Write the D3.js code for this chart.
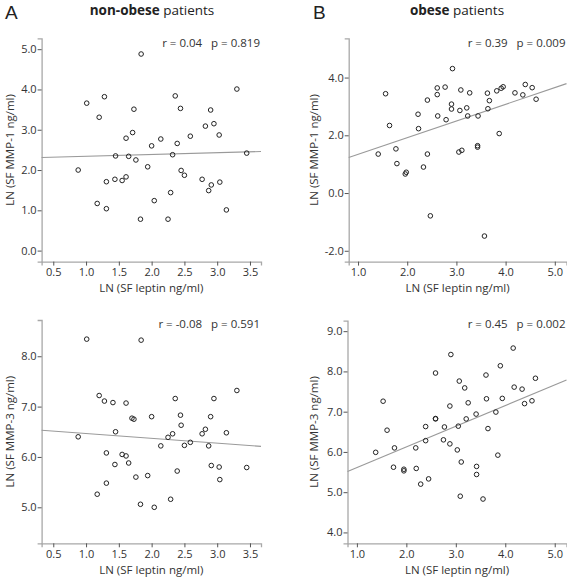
<!DOCTYPE html>
<html>
<head>
<meta charset="utf-8">
<script src="https://cdn.jsdelivr.net/npm/d3@7/dist/d3.min.js"></script>
<style>
  html, body { margin: 0; padding: 0; background: #fff; }
  svg { display: block; font-family: "Open Sans", "Noto Sans", sans-serif; }
</style>
</head>
<body>
<svg id="chart" width="567" height="577"></svg>
<script>
// ---------- DATA ----------
// Panel A top: non-obese, LN(SF leptin) vs LN(SF MMP-1)
const nonObeseLeptinA = [0.88,1.01,1.28,1.20,1.17,1.31,1.31,1.44,1.45,1.55,1.61,1.61,1.65,1.71,1.73,1.76,1.84,1.83,1.94,2.00,2.04,2.14,2.36,2.44,2.39,2.32,2.29,2.25,2.45,2.50,2.59,2.77,2.82,2.90,2.87,2.91,2.95,3.03,3.04,3.14,3.30,3.45];
const nonObeseMMP1   = [2.00,3.66,3.82,3.31,1.17,1.04,1.71,1.77,2.35,1.74,1.83,2.79,2.34,2.93,3.51,2.25,4.88,0.78,2.08,2.60,1.24,2.77,3.84,3.53,2.66,2.38,1.44,0.78,1.99,1.87,2.84,1.77,3.09,3.49,1.49,1.63,3.15,2.87,1.70,1.01,4.01,2.42];

// Panel B top: obese, LN(SF leptin) vs LN(SF MMP-1)
const obeseLeptinB = [1.41,1.56,1.64,1.77,1.79,1.96,1.98,2.22,2.23,2.33,2.41,2.41,2.47,2.61,2.61,2.62,2.77,2.79,2.90,2.90,2.92,3.05,3.07,3.09,3.11,3.21,3.23,3.27,3.43,3.43,3.44,3.57,3.63,3.64,3.67,3.82,3.87,3.91,3.95,4.19,4.35,4.40,4.54,4.62];
const obeseMMP1    = [1.35,3.44,2.34,1.53,1.02,0.66,0.72,2.73,2.23,0.90,3.22,1.35,-0.79,3.64,3.41,2.67,3.67,2.54,3.08,2.91,4.31,1.42,2.86,3.57,1.48,2.95,2.67,3.47,1.64,1.59,2.67,-1.49,3.46,2.92,3.20,3.54,2.06,3.63,3.68,3.47,3.40,3.76,3.65,3.25];

// Panel A bottom: non-obese, LN(SF leptin) vs LN(SF MMP-3)
const nonObeseLeptinC = [1.01,1.84,1.20,1.28,1.41,1.61,1.70,1.73,2.00,0.88,1.45,1.31,1.55,1.61,1.44,1.65,1.94,1.76,1.31,1.17,1.83,2.04,2.14,2.36,2.44,2.45,2.25,2.32,2.39,2.29,2.50,2.59,2.77,2.82,2.90,2.87,2.91,2.95,3.03,3.04,3.14,3.30,3.45];
const nonObeseMMP3   = [8.34,8.32,7.22,7.11,7.08,7.07,6.77,6.75,6.80,6.40,6.50,6.08,6.05,6.02,5.85,5.88,5.63,5.60,5.48,5.26,5.06,5.00,6.22,7.16,6.83,6.63,6.39,6.46,5.72,5.16,6.23,6.29,6.46,6.55,6.80,6.22,5.83,7.16,5.80,5.55,6.48,7.32,5.79];

// Panel B bottom: obese, LN(SF leptin) vs LN(SF MMP-3)
const obeseLeptinD = [1.38,1.53,1.61,1.74,1.76,1.95,1.95,2.19,2.20,2.29,2.39,2.39,2.45,2.59,2.59,2.59,2.75,2.77,2.88,2.88,2.90,3.03,3.05,3.07,3.09,3.11,3.18,3.21,3.25,3.41,3.42,3.42,3.55,3.61,3.62,3.65,3.81,3.85,3.90,3.94,4.16,4.18,4.34,4.39,4.54,4.61];
const obeseMMP3    = [5.99,7.26,6.54,5.62,6.10,5.57,5.53,6.10,5.59,5.20,6.63,6.28,5.33,7.96,6.82,6.83,6.30,6.62,7.14,6.20,8.42,6.05,6.64,7.76,4.90,5.75,7.59,6.82,7.22,6.94,5.64,5.44,4.83,7.91,7.32,6.58,6.99,5.92,8.14,7.33,8.58,7.61,7.56,7.20,7.27,7.83];

// Fitted regression lines (intercept, slope)
const fitIntercepts = [2.296, 0.762, 6.561, 5.094];
const fitSlopes     = [0.0448, 0.578, -0.0955, 0.5146];

// Statistics annotations
const statR = ["0.04", "0.39", "-0.08", "0.45"];
const statP = ["0.819", "0.009", "0.591", "0.002"];

// Axis tick labels
const xTicksNonObese = [0.5, 1.0, 1.5, 2.0, 2.5, 3.0, 3.5];
const xTicksObese    = [1.0, 2.0, 3.0, 4.0, 5.0];
const yTicksA1 = [0.0, 1.0, 2.0, 3.0, 4.0, 5.0];
const yTicksB1 = [-2.0, 0.0, 2.0, 4.0];
const yTicksA3 = [5.0, 6.0, 7.0, 8.0];
const yTicksB3 = [4.0, 5.0, 6.0, 7.0, 8.0, 9.0];

// Axis extents (value ranges shown)
const xDomainNonObese = [0.322, 3.668];
const xDomainObese    = [0.81, 5.238];
const yDomainA1 = [-0.273, 5.27];
const yDomainB1 = [-2.375, 5.36];
const yDomainA3 = [4.285, 8.72];
const yDomainB3 = [3.73, 9.26];

const xLabel = "LN (SF leptin ng/ml)";
const yLabelMMP1 = "LN (SF MMP-1 ng/ml)";
const yLabelMMP3 = "LN (SF MMP-3 ng/ml)";

// ---------- LAYOUT ----------
const svg = d3.select("#chart");
const axisColor = "#a8a8a8";
const textColor = "#333";

const panels = [
  { xs: nonObeseLeptinA, ys: nonObeseMMP1, xDom: xDomainNonObese, yDom: yDomainA1,
    xTicks: xTicksNonObese, yTicks: yTicksA1, yLabel: yLabelMMP1,
    left: 41.6, right: 261, top: 38.3, bottom: 261.6, yLabelX: 14, statY: 47, fit: 0 },
  { xs: obeseLeptinB, ys: obeseMMP1, xDom: xDomainObese, yDom: yDomainB1,
    xTicks: xTicksObese, yTicks: yTicksB1, yLabel: yLabelMMP1,
    left: 348.7, right: 566.5, top: 38.3, bottom: 261.6, yLabelX: 318, statY: 47, fit: 1 },
  { xs: nonObeseLeptinC, ys: nonObeseMMP3, xDom: xDomainNonObese, yDom: yDomainA3,
    xTicks: xTicksNonObese, yTicks: yTicksA3, yLabel: yLabelMMP3,
    left: 41.6, right: 261, top: 320, bottom: 543.3, yLabelX: 14, statY: 328, fit: 2 },
  { xs: obeseLeptinD, ys: obeseMMP3, xDom: xDomainObese, yDom: yDomainB3,
    xTicks: xTicksObese, yTicks: yTicksB3, yLabel: yLabelMMP3,
    left: 347.5, right: 566.5, top: 320.7, bottom: 543.3, yLabelX: 318, statY: 328, fit: 3 }
];

panels.forEach(p => {
  const x = d3.scaleLinear().domain(p.xDom).range([p.left, p.right]);
  const y = d3.scaleLinear().domain(p.yDom).range([p.bottom, p.top]);
  const g = svg.append("g");

  // x axis
  const xAxis = d3.axisBottom(x).tickValues(p.xTicks).tickFormat(d3.format(".1f")).tickSize(4).tickPadding(3);
  const gx = g.append("g").attr("transform", `translate(0,${p.bottom})`).call(xAxis);
  // y axis
  const yAxis = d3.axisLeft(y).tickValues(p.yTicks).tickFormat(d3.format(".1f")).tickSize(4).tickPadding(1);
  const gy = g.append("g").attr("transform", `translate(${p.left},0)`).call(yAxis);

  [gx, gy].forEach(ax => {
    ax.select(".domain").attr("stroke", axisColor).attr("stroke-width", 1.3);
    ax.selectAll(".tick line").attr("stroke", "#555").attr("stroke-width", 1);
    ax.selectAll(".tick text").attr("fill", textColor).style("font-size", "11px")
      .style("font-family", "'Open Sans', sans-serif");
  });
  gy.selectAll(".tick text").text(d => d3.format(".1f")(d).replace("−", "-"));

  // axis titles
  g.append("text")
    .attr("x", (p.left + p.right) / 2).attr("y", p.bottom + 30.5)
    .attr("text-anchor", "middle").attr("fill", textColor)
    .style("font-size", "11.5px").text(xLabel);
  g.append("text")
    .attr("transform", `translate(${p.yLabelX},${(p.top + p.bottom) / 2}) rotate(-90)`)
    .attr("text-anchor", "middle").attr("fill", textColor)
    .style("font-size", "11.5px").text(p.yLabel);

  // regression line
  const a = fitIntercepts[p.fit], b = fitSlopes[p.fit];
  g.append("line")
    .attr("x1", x(p.xDom[0])).attr("y1", y(a + b * p.xDom[0]))
    .attr("x2", x(p.xDom[1])).attr("y2", y(a + b * p.xDom[1]))
    .attr("stroke", "#9a9a9a").attr("stroke-width", 1.1);

  // points
  g.append("g").selectAll("circle")
    .data(p.xs.map((v, i) => [v, p.ys[i]]))
    .join("circle")
    .attr("cx", d => x(d[0])).attr("cy", d => y(d[1]))
    .attr("r", 2.3)
    .attr("fill", "none").attr("stroke", "#222").attr("stroke-width", 1);

  // stats
  g.append("text")
    .attr("x", p.right - 1).attr("y", p.statY)
    .attr("text-anchor", "end").attr("fill", textColor)
    .style("font-size", "11.5px").style("white-space", "pre")
    .text(`r = ${statR[p.fit]}   p = ${statP[p.fit]}`);
});

// Panel letters and titles
svg.append("text").attr("x", 5).attr("y", 18.5).style("font-size", "19px")
  .style("font-family", "'Liberation Sans', Arial, sans-serif").attr("fill", "#222").text("A");
svg.append("text").attr("x", 313).attr("y", 18.5).style("font-size", "19px")
  .style("font-family", "'Liberation Sans', Arial, sans-serif").attr("fill", "#222").text("B");

const t1 = svg.append("text").attr("x", 152).attr("y", 15).attr("text-anchor", "middle")
  .attr("fill", "#222").style("font-size", "13.5px");
t1.append("tspan").style("font-weight", "bold").text("non-obese");
t1.append("tspan").text(" patients");

const t2 = svg.append("text").attr("x", 457).attr("y", 15).attr("text-anchor", "middle")
  .attr("fill", "#222").style("font-size", "13.5px");
t2.append("tspan").style("font-weight", "bold").text("obese");
t2.append("tspan").text(" patients");
</script>
</body>
</html>
